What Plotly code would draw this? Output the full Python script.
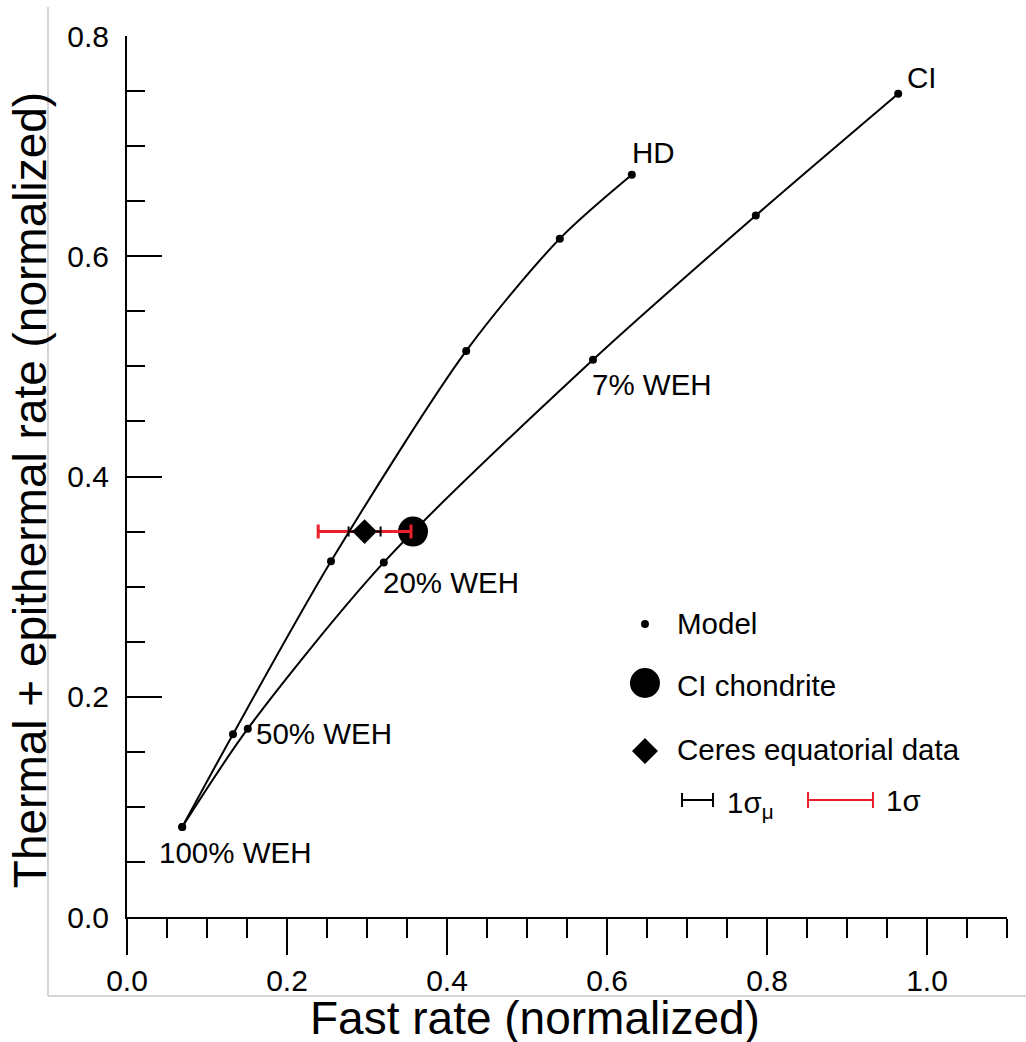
import plotly.graph_objects as go

# ---- data ----
hd_fast = [0.069, 0.1325, 0.255, 0.424, 0.541, 0.631]
hd_therm = [0.0817, 0.166, 0.323, 0.514, 0.616, 0.674]
ci_fast = [0.069, 0.151, 0.321, 0.5825, 0.786, 0.964]
ci_therm = [0.0817, 0.171, 0.322, 0.506, 0.637, 0.7475]

ci_chondrite_fast = [0.3575]
ci_chondrite_therm = [0.35]

ceres_fast = [0.297]
ceres_therm = [0.35]
ceres_sigma_mu = [0.02]
ceres_sigma = [0.058]

curve_labels = ["HD", "CI", "7% WEH", "20% WEH", "50% WEH", "100% WEH"]
curve_label_x = [0.6325, 0.976, 0.5825, 0.321, 0.1625, 0.041]
curve_label_y = [0.694, 0.762, 0.484, 0.3034, 0.167, 0.059]

FONT = "Liberation Sans, Arial, sans-serif"
LBL = 29.5

fig = go.Figure()

for xs, ys in [(hd_fast, hd_therm), (ci_fast, ci_therm)]:
    fig.add_trace(go.Scatter(
        x=xs, y=ys, mode="lines+markers",
        line=dict(color="black", width=2, shape="spline", smoothing=0.8),
        marker=dict(color="black", size=8),
        showlegend=False, hoverinfo="skip"))

fig.add_trace(go.Scatter(
    x=ci_chondrite_fast, y=ci_chondrite_therm, mode="markers",
    marker=dict(color="black", size=30, symbol="circle"),
    showlegend=False))

# red 1-sigma bar
fig.add_trace(go.Scatter(
    x=ceres_fast, y=ceres_therm, mode="markers",
    marker=dict(color="rgba(0,0,0,0)", size=1),
    error_x=dict(type="data", array=ceres_sigma, color="#e8202a", thickness=3, width=7),
    showlegend=False))
# black 1-sigma_mu bar + diamond
fig.add_trace(go.Scatter(
    x=ceres_fast, y=ceres_therm, mode="markers",
    marker=dict(color="black", size=19, symbol="diamond"),
    error_x=dict(type="data", array=ceres_sigma_mu, color="black", thickness=2, width=5),
    showlegend=False))

# ---- custom legend on overlay axes (0..1 paper-like) ----
leg_x = 0.5886
fig.add_trace(go.Scatter(x=[leg_x], y=[0.3326], xaxis="x2", yaxis="y2", mode="markers",
                         marker=dict(color="black", size=8), showlegend=False))
fig.add_trace(go.Scatter(x=[leg_x], y=[0.2656], xaxis="x2", yaxis="y2", mode="markers",
                         marker=dict(color="black", size=30), showlegend=False))
fig.add_trace(go.Scatter(x=[leg_x], y=[0.1884], xaxis="x2", yaxis="y2", mode="markers",
                         marker=dict(color="black", size=20, symbol="diamond"), showlegend=False))
fig.add_trace(go.Scatter(x=[0.6483], y=[0.1328], xaxis="x2", yaxis="y2", mode="markers",
                         marker=dict(color="rgba(0,0,0,0)", size=1),
                         error_x=dict(type="constant", value=0.0176, color="black", thickness=2, width=7),
                         showlegend=False))
fig.add_trace(go.Scatter(x=[0.8108], y=[0.1328], xaxis="x2", yaxis="y2", mode="markers",
                         marker=dict(color="rgba(0,0,0,0)", size=1),
                         error_x=dict(type="constant", value=0.0369, color="#e8202a", thickness=2, width=8),
                         showlegend=False))

annotations = []
for t, x, y in zip(curve_labels, curve_label_x, curve_label_y):
    annotations.append(dict(x=x, y=y, xref="x", yref="y", text=t, showarrow=False,
                            xanchor="left", yanchor="middle", xshift=-3,
                            font=dict(family=FONT, size=LBL, color="black")))

for t, y in [("Model", 0.3326), ("CI chondrite", 0.2633), ("Ceres equatorial data", 0.1896)]:
    annotations.append(dict(x=0.626, y=y, xref="paper", yref="paper", text=t, showarrow=False,
                            xanchor="left", yanchor="middle", xshift=-3,
                            font=dict(family=FONT, size=LBL, color="black")))
annotations.append(dict(x=0.683, y=0.1328, xref="paper", yref="paper", text="1σ<sub>μ</sub>",
                        showarrow=False, xanchor="left", yanchor="middle", yshift=-4, xshift=-3,
                        font=dict(family=FONT, size=LBL, color="black")))
annotations.append(dict(x=0.8636, y=0.1328, xref="paper", yref="paper", text="1σ",
                        showarrow=False, xanchor="left", yanchor="middle", xshift=-3,
                        font=dict(family=FONT, size=LBL, color="black")))

# axis titles
annotations.append(dict(x=0.4636, y=-0.1147, xref="paper", yref="paper",
                        text="Fast rate (normalized)", showarrow=False,
                        xanchor="center", yanchor="middle",
                        font=dict(family=FONT, size=46, color="black")))
annotations.append(dict(x=-0.110, y=0.4847, xref="paper", yref="paper",
                        text="Thermal + epithermal rate (normalized)", showarrow=False,
                        textangle=-90, xanchor="center", yanchor="middle",
                        font=dict(family=FONT, size=46, color="black")))

shapes = [
    dict(type="line", xref="paper", yref="paper", x0=-0.0898, x1=-0.0898, y0=-0.0897, y1=1.033,
         line=dict(color="#c8c8c8", width=1.5)),
    dict(type="line", xref="paper", yref="paper", x0=-0.0898, x1=1.03, y0=-0.0897, y1=-0.0897,
         line=dict(color="#c8c8c8", width=1.5)),
]

fig.update_layout(
    width=1026, height=1042,
    margin=dict(l=127, r=19, t=36, b=125),
    plot_bgcolor="white", paper_bgcolor="white",
    font=dict(family=FONT, size=28, color="black"),
    annotations=annotations, shapes=shapes,
    xaxis=dict(range=[0, 1.1], showgrid=False, zeroline=False,
               showline=True, linecolor="black", linewidth=2,
               ticks="outside", ticklen=36, tickwidth=1.5, tickcolor="black",
               dtick=0.2, tick0=0, tickformat=".1f",
               tickfont=dict(family=FONT, size=30),
               minor=dict(dtick=0.05, ticks="outside", ticklen=19, tickwidth=1.5, tickcolor="black", showgrid=False)),
    yaxis=dict(range=[0, 0.8], showgrid=False, zeroline=False,
               showline=True, linecolor="black", linewidth=2,
               ticks="inside", ticklen=35, tickwidth=1.5, tickcolor="black",
               dtick=0.2, tick0=0, tickformat=".1f", ticklabelstandoff=10,
               tickfont=dict(family=FONT, size=30),
               minor=dict(dtick=0.05, ticks="inside", ticklen=18, tickwidth=1.5, tickcolor="black", showgrid=False)),
    xaxis2=dict(range=[0, 1], overlaying="x", visible=False, fixedrange=True),
    yaxis2=dict(range=[0, 1], overlaying="y", visible=False, fixedrange=True),
)

fig.write_html("out.html")
